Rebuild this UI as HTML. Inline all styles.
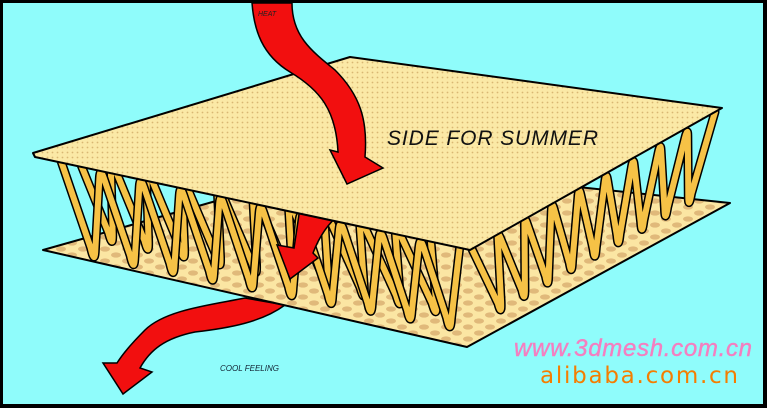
<!DOCTYPE html>
<html><head><meta charset="utf-8"><style>
html,body{margin:0;padding:0;width:767px;height:408px;overflow:hidden;background:#000}
svg{display:block}
</style></head><body>
<svg id="s" width="767" height="408" viewBox="0 0 767 408" xmlns="http://www.w3.org/2000/svg">
<defs>
<pattern id="fine" width="5" height="5" patternUnits="userSpaceOnUse"><rect width="5" height="5" fill="#fbe9a6"/><circle cx="2.5" cy="2.5" r="0.9" fill="#d9b773"/></pattern>
<pattern id="big" width="22" height="12" patternUnits="userSpaceOnUse"><rect width="22" height="12" fill="#fbe6a3"/><ellipse cx="6" cy="3" rx="5" ry="2.6" fill="#e0b97a"/><ellipse cx="17" cy="9" rx="5" ry="2.6" fill="#e0b97a"/></pattern>
</defs>
<rect x="3" y="3" width="760" height="401" fill="#8ffcfb"/>
<path d="M245,298 C210,305 165,310 145,330 C132,343 122,355 117,363 L103,363 L123,394 L152,372 L140,368 C150,350 165,338 195,332 C230,328 262,322 285,305 Z" fill="#f20f0f" stroke="#000" stroke-width="1.5"/>
<polygon points="43,250 350,163 730,203 467,347" fill="url(#big)" stroke="#000" stroke-width="2" stroke-linejoin="round"/>
<g id="springs" fill="none" stroke-linejoin="round" stroke-linecap="round"></g>
<path d="M300,207 C298,222 296,235 294,248 L277,245 L290,279 L318,258 L313,253 C318,240 326,225 340,214 Z" fill="#f20f0f" stroke="#000" stroke-width="1.5"/>
<polygon points="33,153 350,57 722,108 470,250 35,157" fill="url(#fine)" stroke="#000" stroke-width="2" stroke-linejoin="round"/>
<path d="M252,3 C254,30 262,55 290,72 C320,90 336,110 338,152 L330,150 L347,184 L383,168 L365,157 C368,120 360,95 335,70 C310,50 292,35 292,3 Z" fill="#f20f0f" stroke="#000" stroke-width="1.5"/>
<text x="258" y="16" font-family="Liberation Sans,sans-serif" font-style="italic" font-size="7" fill="#222">HEAT</text>
<text x="387" y="145" font-family="Liberation Sans,sans-serif" font-style="italic" font-size="21" fill="#111" textLength="211">SIDE FOR SUMMER</text>
<text x="220" y="371" font-family="Liberation Sans,sans-serif" font-style="italic" font-size="8" fill="#123">COOL FEELING</text>
<text x="514" y="356" font-family="Liberation Sans,sans-serif" font-style="italic" font-size="24" fill="#f47fc0" stroke="#f47fc0" stroke-width="0.4" textLength="238">www.3dmesh.com.cn</text>
<text x="540" y="383" font-family="DejaVu Sans,sans-serif" font-size="23" fill="#f57d00" textLength="198">alibaba.com.cn</text>
</svg>
<script>
var g=document.getElementById('springs'),ns='http://www.w3.org/2000/svg';
function row(x0,y0,x1,y1,bx0,by0,bx1,by1,n){
 var d='';var pts=[];
 for(var i=0;i<=n*2;i++){var t=i/(2*n);var x,y;
  if(i%2==0){x=x0+(x1-x0)*t;y=y0+(y1-y0)*t;}else{x=bx0+(bx1-bx0)*t;y=by0+(by1-by0)*t;}
  pts.push([x,y]);}
 d='M'+pts[0][0]+','+pts[0][1];
 for(var i=1;i<pts.length;i++){
  var p=pts[i],q=pts[i-1];
  var ax=p[0]+(q[0]-p[0])*0.12, ay=p[1]+(q[1]-p[1])*0.12;
  d+=' L'+ax.toFixed(1)+','+ay.toFixed(1);
  var nx=pts[i+1]?pts[i+1]:p;
  var cx=p[0]+(nx[0]-p[0])*0.12, cy=p[1]+(nx[1]-p[1])*0.12;
  var ox=p[0],oy=p[1]+(i%2?6:0);
  d+=' Q'+ox.toFixed(1)+','+oy.toFixed(1)+' '+cx.toFixed(1)+','+cy.toFixed(1);
 }
 [['#000',9],['#f6c246',6]].forEach(function(c){var p=document.createElementNS(ns,'path');p.setAttribute('d',d);p.setAttribute('stroke',c[0]);p.setAttribute('stroke-width',c[1]);g.appendChild(p);});
}
row(75,150,430,230,95,240,455,318,10);
row(60,158,460,245,75,256,470,333,10);
row(470,245,715,112,490,318,700,198,9);
</script>
</body></html>
